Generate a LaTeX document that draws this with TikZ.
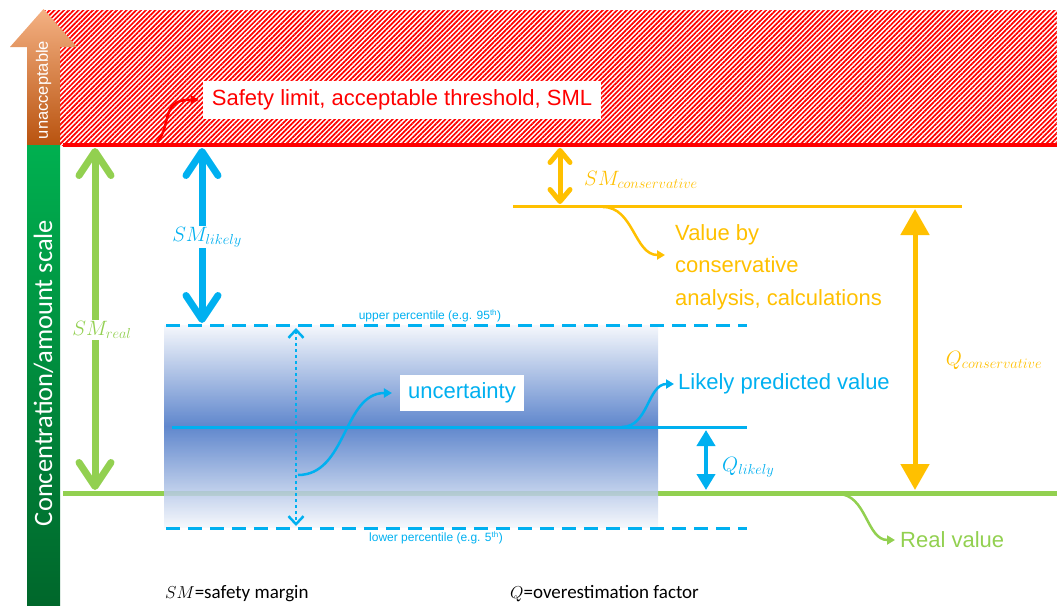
\documentclass[tikz,border=0pt]{standalone}
\usepackage{fontspec}
\setmainfont{Liberation Sans}
\newfontfamily\calfont{Carlito}
\usepackage{xcolor}
\usepackage{tikz}
\usetikzlibrary{calc,arrows.meta,patterns.meta}
\DeclareMathSizes{20}{20}{15}{12}
\definecolor{limred}{HTML}{FF0000}
\definecolor{realgreen}{HTML}{92D050}
\definecolor{likblue}{HTML}{00B0F0}
\definecolor{consgold}{HTML}{FFC000}
\definecolor{bandblue}{HTML}{4472C4}
\definecolor{bartop}{HTML}{00B050}
\definecolor{barbot}{HTML}{00672B}
\definecolor{unacctop}{HTML}{F4B183}
\definecolor{unaccbot}{HTML}{B9530F}
\tikzset{
  gmargin/.style={draw=realgreen, line width=7pt,
    {Straight Barb[length=24pt,width=32pt,line cap=round,line join=round]}-{Straight Barb[length=24pt,width=32pt,line cap=round,line join=round]}},
  bmargin/.style={draw=likblue, line width=7pt,
    {Straight Barb[length=24pt,width=32pt,line cap=round,line join=round]}-{Straight Barb[length=24pt,width=32pt,line cap=round,line join=round]}},
  omargin/.style={draw=consgold, line width=5pt,
    {Straight Barb[length=12pt,width=20pt,line cap=round,line join=round]}-{Straight Barb[length=12pt,width=20pt,line cap=round,line join=round]}},
  ofactor/.style={draw=consgold, line width=5pt, {Triangle[length=26pt,width=28pt]}-{Triangle[length=26pt,width=28pt]}},
  bfactor/.style={draw=likblue, line width=4.5pt, {Triangle[length=16pt,width=18pt]}-{Triangle[length=16pt,width=18pt]}},
  pctline/.style={draw=likblue, line width=3pt, dash pattern=on 14pt off 8pt},
  pointer/.style={line width=2.5pt, -{Triangle[length=8pt,width=9pt]}},
  mlab/.style={fill=white, inner sep=1pt, font=\fontsize{20}{24}\selectfont},
  tlab/.style={font=\fontsize{22}{26}\selectfont, inner sep=2pt},
  pctlab/.style={text=likblue, font=\fontsize{12}{14}\selectfont, inner sep=1pt},
  leg/.style={font=\calfont\fontsize{19}{22}\selectfont, anchor=west, inner sep=0pt}
}
\begin{document}
\begin{tikzpicture}[x=1pt,y=-1pt]
  \useasboundingbox (0,0) rectangle (1057,608);

  % Unacceptable zone
  \fill[pattern={Lines[angle=45,distance=3.4pt,line width=1.7pt]}, pattern color=limred] (42,10) rectangle (1057,145);

  % Scale bar
  \shade[top color=unacctop, bottom color=unaccbot]
    (27,145) -- (27,47) -- (10,47) -- (43.5,9) -- (77,47) -- (60,47) -- (60,145) -- cycle;
  \shade[top color=bartop, bottom color=barbot] (27,145) rectangle (60,605);
  \node[rotate=90, text=white, font=\fontsize{16.5}{18}\selectfont] (unacc) at (43.5,90) {unacceptable};
  \node[rotate=90, text=white, font=\calfont\fontsize{26.5}{30}\selectfont] (scale) at (43.5,373) {Concentration/amount scale};

  % Levels
  \coordinate (sml-l) at (63,145);
  \coordinate (sml-r) at (1057,145);
  \coordinate (real-l) at (63,493);
  \coordinate (real-r) at (1057,493);
  \draw[limred, line width=4pt] (sml-l) -- (sml-r);
  \draw[realgreen, line width=5pt] (real-l) -- (real-r);

  % Uncertainty band
  \shade[top color=bandblue!6, bottom color=bandblue!6, middle color=bandblue, fill opacity=0.85]
    (164,325) rectangle (658,527);
  \coordinate (upp-l) at (166,325);
  \coordinate (upp-r) at (747,325);
  \coordinate (low-l) at (166,528);
  \coordinate (low-r) at (747,528);
  \coordinate (lik-l) at (172,427);
  \coordinate (lik-r) at (747,427);
  \draw[pctline] (upp-l) -- (upp-r);
  \draw[pctline] (low-l) -- (low-r);
  \draw[likblue, line width=3pt] (lik-l) -- (lik-r);
  \node[pctlab] (upp) at (430,316) {upper percentile (e.g. 95\textsuperscript{th})};
  \node[pctlab] (low) at (436,538) {lower percentile (e.g. 5\textsuperscript{th})};

  % Conservative value
  \coordinate (cons-l) at (513,206);
  \coordinate (cons-r) at (962,206);
  \draw[consgold, line width=3pt] (cons-l) -- (cons-r);

  % Margins and factors
  \coordinate (smr-t) at (95,148);
  \coordinate (smr-b) at (95,490);
  \draw[gmargin] (smr-t) -- (smr-b);
  \node[mlab, text=realgreen] (smreal) at (102,330) {$SM_{real}$};

  \coordinate (sml-t) at (202,148);
  \coordinate (sml-b) at (202,323);
  \draw[bmargin] (sml-t) -- (sml-b);
  \node[mlab, text=likblue] (smlik) at (207,237) {$SM_{likely}$};

  \coordinate (smc-t) at (560,148);
  \coordinate (smc-b) at (560,204);
  \draw[omargin] (smc-t) -- (smc-b);
  \node[mlab, text=consgold, anchor=west] (smcons) at (583,180) {$SM_{conservative}$};

  \coordinate (qc-t) at (915,209);
  \coordinate (qc-b) at (915,490);
  \draw[ofactor] (qc-t) -- (qc-b);
  \node[mlab, text=consgold] (qcons) at (994,360) {$Q_{conservative}$};

  \coordinate (ql-t) at (706,430);
  \coordinate (ql-b) at (706,490);
  \draw[bfactor] (ql-t) -- (ql-b);
  \node[mlab, text=likblue, anchor=west] (qlik) at (721,467) {$Q_{likely}$};

  \coordinate (unc-t) at (296,328);
  \coordinate (unc-b) at (296,526);
  \draw[likblue, line width=2.5pt, dash pattern=on 3pt off 3pt,
    {Straight Barb[length=8pt,width=15pt]}-{Straight Barb[length=8pt,width=15pt]}] (unc-t) -- (unc-b);

  % Labels with pointers
  \node[tlab, fill=white, text=limred, inner xsep=9pt, inner ysep=9pt] (safety) at (402,100)
    {Safety limit, acceptable threshold, SML};
  \coordinate (safety-src) at (157,142);
  \draw[pointer, limred] (safety-src) .. controls (172,126) and (160,99) .. ([xshift=-4pt]safety.west);

  \node[tlab, fill=white, text=likblue, inner xsep=8pt, inner ysep=8pt] (unc) at (462,393) {uncertainty};
  \coordinate (unc-src) at (298,475);
  \draw[pointer, likblue] (unc-src) to[out=0,in=180] ([xshift=-8pt]unc.west);

  \node[tlab, text=likblue, anchor=west] (likely) at (676,384) {Likely predicted value};
  \coordinate (lik-src) at (622,427);
  \draw[pointer, likblue] (lik-src) to[out=0,in=180] ([xshift=-2pt]likely.west);

  \node[tlab, text=consgold, align=left, anchor=north west, font=\fontsize{22}{32.5}\selectfont] (valcons) at (673,222)
    {Value by\\conservative\\analysis, calculations};
  \coordinate (cons-src) at (603,207);
  \coordinate (cons-tip) at (665,255);
  \draw[pointer, consgold] (cons-src) to[out=0,in=180] (cons-tip);

  \node[tlab, text=realgreen, anchor=west] (real) at (898,540) {Real value};
  \coordinate (real-src) at (838,494);
  \draw[pointer, realgreen] (real-src) to[out=0,in=180] ([xshift=-3pt]real.west);

  % Legend
  \node[leg] (legsm) at (165,594) {$SM$=safety margin};
  \node[leg] (legq) at (510,594) {$Q$=overestimation factor};
\end{tikzpicture}
\end{document}
